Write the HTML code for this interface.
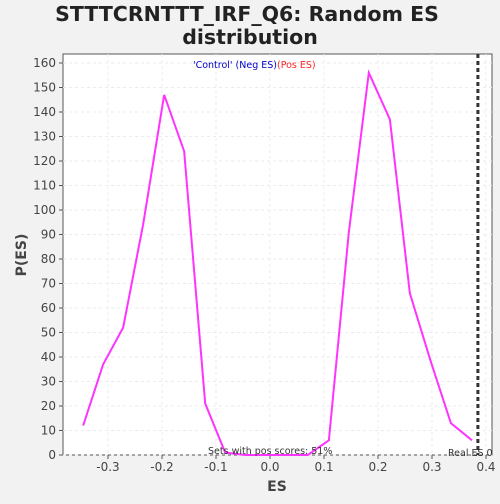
<!DOCTYPE html>
<html><head><meta charset="utf-8"><style>
body{margin:0;background:#f2f2f2;font-family:"DejaVu Sans","Liberation Sans",sans-serif}
</style></head><body>
<svg id="c" width="500" height="500" xmlns="http://www.w3.org/2000/svg" font-family="DejaVu Sans, Liberation Sans, sans-serif">
<text x="247" y="21" text-anchor="middle" font-size="20.5" font-weight="bold" fill="#222">STTTCRNTTT_IRF_Q6: Random ES</text>
<text x="250" y="44" text-anchor="middle" font-size="20.5" font-weight="bold" fill="#222">distribution</text>
<rect x="63" y="54" width="429" height="401" fill="#fff" stroke="#555"/>
<g id="grid"></g><g id="ticks"></g>
<text x="277" y="68" text-anchor="end" font-size="9.5" fill="#0000cc">'Control' (Neg ES)</text>
<text x="277" y="68" font-size="9.5" fill="#ff2222">(Pos ES)</text>
<polyline id="line" fill="none" stroke="#ff33ff" stroke-width="2"/>
<line id="real" y1="54" y2="455" stroke="#333" stroke-width="3" stroke-dasharray="4,3"/>
<text x="208" y="454" font-size="9.5" fill="#333">Sets with pos scores: 51%</text>
<text x="448" y="456" font-size="9.5" fill="#333">Real ES 0</text>
<text x="277" y="491" text-anchor="middle" font-size="14" font-weight="bold" fill="#444">ES</text>
<text x="26" y="255" text-anchor="middle" font-size="14" font-weight="bold" fill="#444" transform="rotate(-90 26 255)">P(ES)</text>
</svg>
<script>
const esValues=[-0.346,-0.309,-0.272,-0.235,-0.196,-0.159,-0.120,-0.083,-0.046,-0.007,0.030,0.070,0.109,0.146,0.183,0.222,0.259,0.298,0.335,0.374];
const density=[12,37,52,94,147,124,21,1,0,0,0,0,6,91,156,137,66,38,13,6];
const xTicks=[-0.3,-0.2,-0.1,0.0,0.1,0.2,0.3,0.4];
const yTicks=[0,10,20,30,40,50,60,70,80,90,100,110,120,130,140,150,160];
const realES=0.385;
const X=v=>270+v*540, Y=v=>455-v*2.45;
const ns="http://www.w3.org/2000/svg";
const g=document.getElementById('grid'), t=document.getElementById('ticks');
function mk(p,tag,a){const e=document.createElementNS(ns,tag);for(const k in a)e.setAttribute(k,a[k]);p.appendChild(e);return e;}
xTicks.forEach(v=>{
 const l=mk(g,'line',{x1:X(v),x2:X(v),y1:54,y2:455,stroke:'#ebebeb','stroke-dasharray':'3,3'});
 
 
 mk(t,'line',{x1:X(v),x2:X(v),y1:455,y2:459,stroke:'#555'});
 const tx=mk(t,'text',{x:X(v),y:471,'text-anchor':'middle','font-size':'12',fill:'#444'});
 tx.textContent=v.toFixed(1);
 
 
});
yTicks.forEach(v=>{
 const l=mk(g,'line',{x1:63,x2:492,y1:Y(v),y2:Y(v),stroke:'#ebebeb','stroke-dasharray':'3,3'});
 
 
 mk(t,'line',{x1:59,x2:63,y1:Y(v),y2:Y(v),stroke:'#555'});
 const tx=mk(t,'text',{x:56,y:Y(v)+4,'text-anchor':'end','font-size':'12',fill:'#444'});
 tx.textContent=v;
 
 
});
document.getElementById('line').setAttribute('points',esValues.map((v,i)=>X(v)+','+Y(density[i])).join(' '));
const r=document.getElementById('real');r.setAttribute('x1',X(realES));r.setAttribute('x2',X(realES));
</script>
</body></html>
